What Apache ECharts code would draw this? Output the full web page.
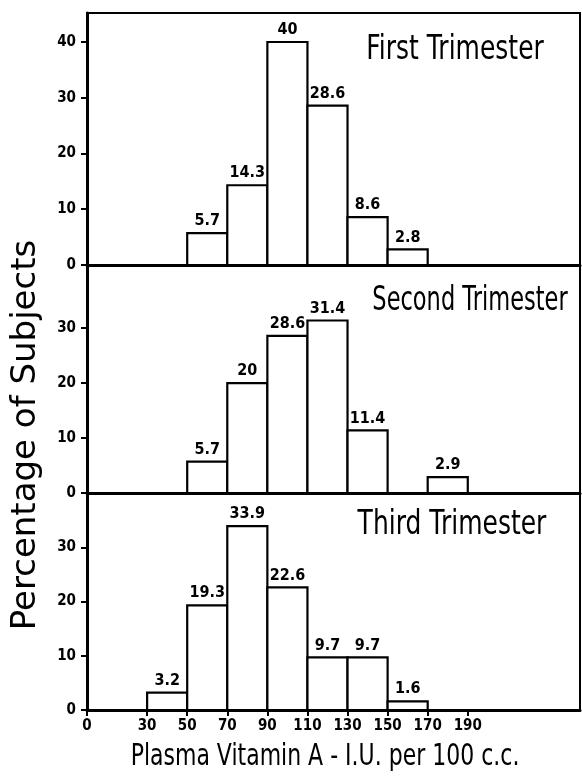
<!DOCTYPE html>
<html>
<head>
<meta charset="utf-8">
<script src="https://cdn.jsdelivr.net/npm/echarts@6/dist/echarts.min.js"></script>
<style>
html,body{margin:0;padding:0;background:#fff;}
#chart{width:582px;height:776px;}
</style>
</head>
<body>
<div id="chart"></div>
<script>
// ---- data ----
const binWidth = 20;
const firstBins = [50, 70, 90, 110, 130, 150];
const firstValues = [5.7, 14.3, 40, 28.6, 8.6, 2.8];
const secondBins = [50, 70, 90, 110, 130, 170];
const secondValues = [5.7, 20, 28.6, 31.4, 11.4, 2.9];
const thirdBins = [30, 50, 70, 90, 110, 130, 150];
const thirdValues = [3.2, 19.3, 33.9, 22.6, 9.7, 9.7, 1.6];
const panelTitles = ['First Trimester', 'Second Trimester', 'Third Trimester'];
const xTickLabels = [0, 30, 50, 70, 90, 110, 130, 150, 170, 190];
const yTicksTop = [0, 10, 20, 30, 40];
const yTicksOther = [0, 10, 20, 30];
const yTitle = 'Percentage of Subjects';
const xTitle = 'Plasma Vitamin A - I.U. per 100 c.c.';

function toData(bins, vals) {
  return bins.map((b, i) => [b, b + binWidth, vals[i]]);
}

const chart = echarts.init(document.getElementById('chart'), null, {renderer: 'canvas'});

const grids = [
  {left: 87, right: 2, top: 13, height: 252},
  {left: 87, right: 2, top: 265, height: 228},
  {left: 87, right: 2, top: 493, height: 217}
];
const yMax = [45.2, 41.5, 40];
const tickFont = '"DejaVu Sans Condensed", "DejaVu Sans"';

function renderBar(params, api) {
  const s = api.value(0), e = api.value(1), v = api.value(2);
  const p0 = api.coord([s, 0]);
  const p1 = api.coord([e, v]);
  return {
    type: 'group',
    children: [
      {type: 'rect', shape: {x: p0[0], y: p1[1], width: p1[0] - p0[0], height: p0[1] - p1[1]},
       style: {fill: '#fff', stroke: '#000', lineWidth: 2.2}},
      {type: 'text', x: (p0[0] + p1[0]) / 2, y: p1[1] - 4,
       style: {text: String(v), textAlign: 'center', textVerticalAlign: 'bottom',
               font: 'bold 16px "DejaVu Sans Condensed", "DejaVu Sans"', fill: '#000'}}
    ]
  };
}

const allData = [toData(firstBins, firstValues), toData(secondBins, secondValues), toData(thirdBins, thirdValues)];

const tickLabelStyle = {color: '#000', fontWeight: 'bold', fontSize: 15, fontFamily: tickFont};

const option = {
  animation: false,
  backgroundColor: '#fff',
  grid: grids.map(g => Object.assign({show: true, borderColor: '#000', borderWidth: 2, backgroundColor: 'transparent'}, g)),
  xAxis: grids.map((g, i) => ({
    type: 'value', gridIndex: i, min: 0, max: 246,
    axisLine: {show: true, onZero: false, lineStyle: {color: '#000', width: 3}},
    axisTick: i === 2 ? {show: true, inside: false, length: 6, lineStyle: {color: '#000', width: 2}, customValues: xTickLabels} : {show: false},
    axisLabel: i === 2 ? Object.assign({show: true, customValues: xTickLabels, margin: 9}, tickLabelStyle) : {show: false},
    splitLine: {show: false}
  })),
  yAxis: grids.map((g, i) => {
    const ticks = i === 0 ? yTicksTop : yTicksOther;
    return {
      type: 'value', gridIndex: i, min: 0, max: yMax[i],
      axisLine: {show: true, lineStyle: {color: '#000', width: 3}},
      axisTick: {show: true, length: 6, lineStyle: {color: '#000', width: 2}, customValues: ticks},
      axisLabel: Object.assign({show: true, customValues: ticks, margin: 11}, tickLabelStyle),
      splitLine: {show: false}
    };
  }),
  series: allData.map((d, i) => ({
    type: 'custom', xAxisIndex: i, yAxisIndex: i, data: d, renderItem: renderBar, clip: false
  })),
  graphic: [
    {type: 'text', x: 455, y: 50, scaleY: 1.35, style: {text: panelTitles[0], textAlign: 'center', textVerticalAlign: 'middle', font: '25px "DejaVu Sans"', fill: '#000'}},
    {type: 'text', x: 470, y: 301, scaleX: 0.9, scaleY: 1.35, style: {text: panelTitles[1], textAlign: 'center', textVerticalAlign: 'middle', font: '25px "DejaVu Sans"', fill: '#000'}},
    {type: 'text', x: 452, y: 525, scaleY: 1.35, style: {text: panelTitles[2], textAlign: 'center', textVerticalAlign: 'middle', font: '25px "DejaVu Sans"', fill: '#000'}},
    {type: 'text', x: 26, y: 435, rotation: Math.PI / 2, style: {text: yTitle, textAlign: 'center', textVerticalAlign: 'middle', font: '34px "DejaVu Sans"', fill: '#000'}},
    {type: 'text', x: 325, y: 757, scaleY: 1.35, style: {text: xTitle, textAlign: 'center', textVerticalAlign: 'middle', font: '22px "DejaVu Sans"', fill: '#000'}}
  ]
};
chart.setOption(option);
</script>
</body>
</html>
